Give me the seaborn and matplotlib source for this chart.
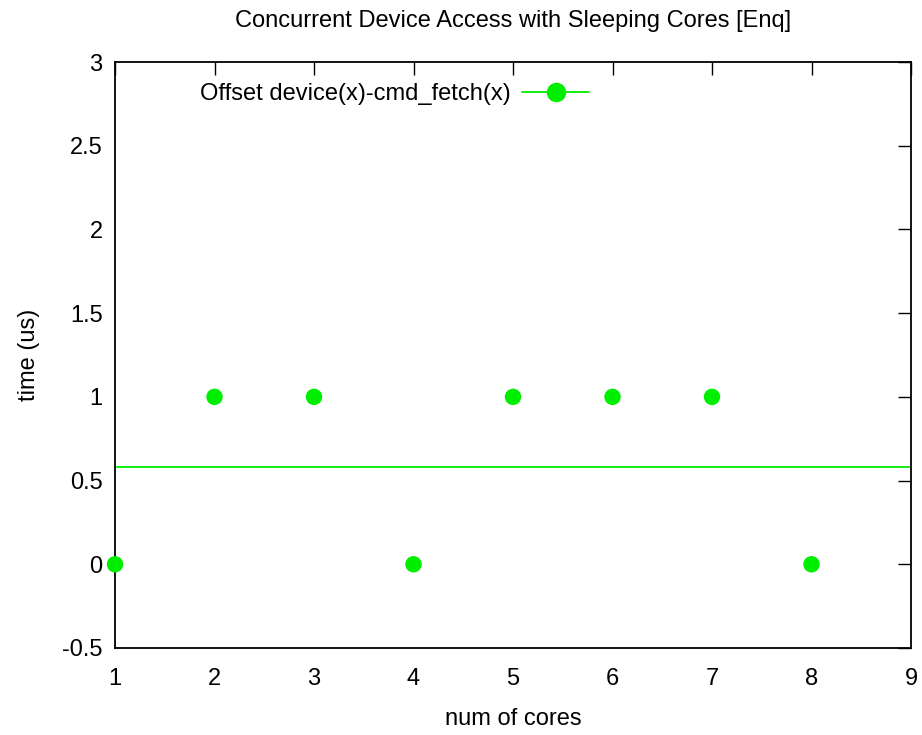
import matplotlib
matplotlib.use("Agg")
import matplotlib.pyplot as plt
import seaborn as sns
import pandas as pd
from matplotlib.lines import Line2D

cores = [1, 2, 3, 4, 5, 6, 7, 8]
offset = [0, 1, 1, 0, 1, 1, 1, 0]
fit_level = 0.58
series_label = "Offset device(x)-cmd_fetch(x)"
xticks = [1, 2, 3, 4, 5, 6, 7, 8, 9]
yticks = [-0.5, 0, 0.5, 1, 1.5, 2, 2.5, 3]
ytick_labels = ["-0.5", "0", "0.5", "1", "1.5", "2", "2.5", "3"]

sns.set_style("white")
plt.rcParams['font.family'] = ['Liberation Sans', 'DejaVu Sans']
plt.rcParams['text.color'] = 'black'
plt.rcParams['axes.labelcolor'] = 'black'
FS = 17

green = "#00ee00"
df = pd.DataFrame({"cores": cores, "offset": offset})

fig = plt.figure(figsize=(9.22, 7.35), dpi=100)
ax = fig.add_axes([115/922, 1-648/735, (911-115)/922, (648-62)/735])

ax.axhline(fit_level, color=green, lw=1.3, zorder=2)
sns.scatterplot(data=df, x="cores", y="offset", ax=ax, color=green, s=140,
                edgecolor="none", zorder=3, clip_on=False, legend=False)

ax.set_xlim(1, 9)
ax.set_ylim(-0.5, 3)
ax.set_xticks(xticks)
ax.set_yticks(yticks)
ax.set_yticklabels(ytick_labels)
for s in ax.spines.values():
    s.set_color("black")
    s.set_linewidth(1.3)
ax.tick_params(direction="in", length=9.5, width=1, top=True, right=True,
               labelsize=FS, colors="black")
ax.tick_params(axis="x", pad=14.5)
ax.tick_params(axis="y", pad=9)
ax.set_xlabel("num of cores", fontsize=FS, labelpad=13)
ax.set_ylabel("time (us)", fontsize=FS, labelpad=16)
ax.set_title("Concurrent Device Access with Sleeping Cores [Enq]", fontsize=FS, pad=25)

handle = Line2D([], [], color=green, lw=1.3, marker="o", markersize=14,
                markeredgecolor="none")
ax.legend([handle], [series_label], loc="upper left", bbox_to_anchor=(0.08, 1.0),
          frameon=False, markerfirst=False, handlelength=2.8, fontsize=FS,
          handletextpad=0.5)

fig.savefig("out.png", dpi=100)
